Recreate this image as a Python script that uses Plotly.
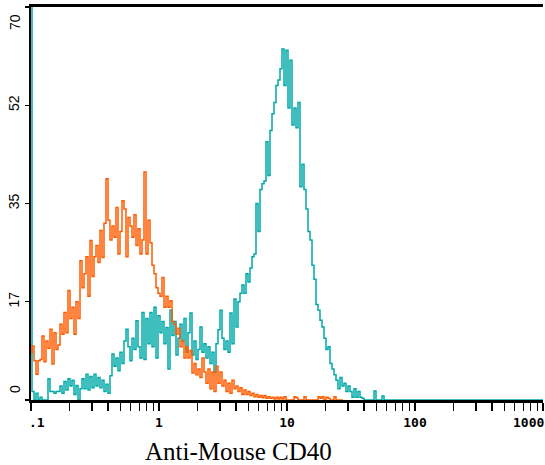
import plotly.graph_objects as go

# Histogram channel counts (64 channels per decade, channel 0 at 0.1)
channels_per_decade = 64
isotype_counts = [
    8.5, 9.6, 7, 4.6, 7, 7.2, 11.4, 6.8, 10.5, 9.2,
    12.6, 6.4, 12, 9, 9.8, 13.5, 11.7, 15.6, 12, 19.5,
    14.5, 16.5, 11.7, 17.5, 14.5, 24.8, 20, 22.5, 25.5, 18.5,
    28.4, 22, 25.5, 27.5, 24.5, 30.2, 25.4, 31.5, 39.4, 32,
    28.5, 31, 29, 34.3, 26, 30, 35.5, 34, 25.5, 32.5,
    31, 29, 33, 27.5, 30.5, 26, 28.5, 40.6, 26, 32,
    28, 24, 22.5, 20, 19, 18.5, 21.8, 16.5, 18.5, 16.5,
    17.7, 14, 13.5, 11.7, 12.8, 9.5, 10.5, 7.5, 9.5, 7.5,
    8.8, 4.8, 6.5, 4.5, 5.5, 4, 7.5, 5, 3, 5.5,
    2, 5, 1.5, 6, 3, 5, 2.5, 3.5, 1.5, 3,
    1.2, 3.5, 2, 2.5, 1.5, 2.2, 1, 1.8, 1, 1.5,
    0.8, 1.2, 0.6, 1, 0.5, 0.8, 0.4, 0.8, 0.3, 0.6,
    0.3, 0.5, 0.2, 0.5, 0.2, 0.5, 0.2, 0.6, 0, 0,
    0, 0, 0.6, 0.4, 0, 0, 0, 0.6, 0, 0,
    0, 0, 0, 0, 0.6, 0.3, 0.6, 0, 0.5, 0.3,
    0, 0, 0.6, 0, 0, 0, 0,
]
cd40_counts = [
    75, 1.5, 0, 1.2, 0, 0.5, 0, 0, 0, 3.8,
    1.5, 1.5, 1.2, 1.5, 1.5, 2.5, 1.2, 3.3, 1.8, 3.8,
    2.5, 3.5, 1.0, 2.6, 0, 2, 3.8, 2, 4.6, 1.8,
    4.2, 2.2, 4.6, 2.5, 4, 2.2, 3.5, 1.5, 2.8, 1.2,
    4.3, 8.2, 6, 7.5, 5.2, 8.5, 6.5, 10.5, 12.6, 9.5,
    7, 11, 9, 14.1, 9.5, 7.5, 15.6, 7.2, 14.5, 10,
    15.6, 9.5, 16.5, 7.5, 15, 12, 14, 10, 12.9, 5.5,
    16, 11.5, 14, 8, 11, 13.5, 10.5, 14.5, 8.5, 12,
    15.5, 8, 10.5, 7.2, 9, 13, 8.5, 10, 7.5, 9.5,
    6.5, 8.5, 5, 10, 12.5, 16, 11, 9, 10.5, 8.5,
    15.5, 10, 18, 13, 17.5, 19, 20.5, 19, 22.5, 21,
    23.5, 25.5, 26, 35, 30, 37.5, 38.5, 39, 46, 40,
    48, 51, 53, 56, 57, 59, 62.5, 56, 62.3, 52,
    60.5, 49, 52, 48.5, 53, 38, 42, 37.5, 34, 30,
    28.5, 24, 21.5, 17, 16, 14.2, 13, 11, 9, 9.5,
    6.5, 5.5, 4.5, 3.5, 2, 4, 2.5, 3, 1.5, 2.5,
    1.5, 0.5, 2, 0.5, 1.5, 0.5, 0.3, 0, 0, 0,
    0, 0, 1.6, 0, 0, 0, 0.7,
] + [0] * 80

x_tickvals = [0.1, 1, 10, 100, 1000]
x_ticktext = [".1", "1", "10", "100", "1000"]
y_tickvals = [0, 17.5, 35, 52.5, 70]
y_ticktext = ["0", "17", "35", "52", "70"]
x_title = "Anti-Mouse CD40"


def channel_to_value(i):
    return 10 ** (-1 + i / channels_per_decade)


x_iso = [channel_to_value(i) for i in range(len(isotype_counts))]
x_cd40 = [channel_to_value(i) for i in range(len(cd40_counts))]

ORANGE = "#ff5c00"
TEAL = "#00a9a9"

fig = go.Figure()
fig.add_trace(go.Scatter(x=x_cd40, y=cd40_counts, mode="lines",
                         line=dict(color=TEAL, width=1.5, shape="hvh"),
                         hoverinfo="skip"))
fig.add_trace(go.Scatter(x=x_iso, y=isotype_counts, mode="lines",
                         line=dict(color=ORANGE, width=1.5, shape="hvh"),
                         hoverinfo="skip"))

minor_vals = [m * 10 ** e for e in range(-1, 3) for m in range(2, 10)]

fig.update_xaxes(
    type="log", range=[-1, 3],
    showgrid=False, zeroline=False,
    showline=True, linecolor="black", linewidth=3, mirror=True,
    ticks="outside", ticklen=8, tickwidth=1.2, tickcolor="black",
    tickmode="array", tickvals=x_tickvals,
    ticktext=["", x_ticktext[1], x_ticktext[2], x_ticktext[3], ""],
    tickfont=dict(family="DejaVu Sans Mono", size=13, color="black", weight="bold"),
    minor=dict(tickvals=minor_vals, ticks="outside", ticklen=8,
               tickwidth=1.2, tickcolor="black", showgrid=False),
)
fig.update_yaxes(
    range=[0, 70],
    showgrid=False, zeroline=False,
    showline=True, linecolor="black", linewidth=2,
    ticks="outside", ticklen=4, tickwidth=1.2, tickcolor="black",
    tickmode="array", tickvals=y_tickvals,
    ticktext=["", y_ticktext[1], y_ticktext[2], y_ticktext[3], ""],
    tickangle=-90,
    tickfont=dict(family="Liberation Sans", size=14, color="black"),
)

annotations = [
    dict(x=-1, y=0, xref="x", yref="paper", text=x_ticktext[0], showarrow=False,
         xanchor="center", yanchor="top", xshift=6, yshift=-13,
         font=dict(family="DejaVu Sans Mono", size=13, color="black", weight="bold")),
    dict(x=3, y=0, xref="x", yref="paper", text=x_ticktext[4], showarrow=False,
         xanchor="right", yanchor="top", xshift=3, yshift=-13,
         font=dict(family="DejaVu Sans Mono", size=13, color="black", weight="bold")),
    dict(x=0, y=y_tickvals[0], xref="paper", yref="y", text=y_ticktext[0], showarrow=False,
         textangle=-90, xanchor="right", yanchor="middle", xshift=-6, yshift=11,
         font=dict(family="Liberation Sans", size=14, color="black")),
    dict(x=0, y=y_tickvals[4], xref="paper", yref="y", text=y_ticktext[4], showarrow=False,
         textangle=-90, xanchor="right", yanchor="middle", xshift=-6, yshift=-15,
         font=dict(family="Liberation Sans", size=14, color="black")),
    dict(x=0.405, y=0, xref="paper", yref="paper", text=x_title, showarrow=False,
         xanchor="center", yanchor="middle", yshift=-51,
         font=dict(family="Liberation Serif", size=25, color="black")),
]

fig.update_layout(
    width=545, height=465,
    margin=dict(l=31, r=2, t=7, b=65),
    paper_bgcolor="white", plot_bgcolor="white",
    showlegend=False,
    annotations=annotations,
)

fig.write_html("out.html",
               config={"displayModeBar": False, "staticPlot": True},
               post_script="document.body.style.margin='0';document.body.style.overflow='hidden';")
